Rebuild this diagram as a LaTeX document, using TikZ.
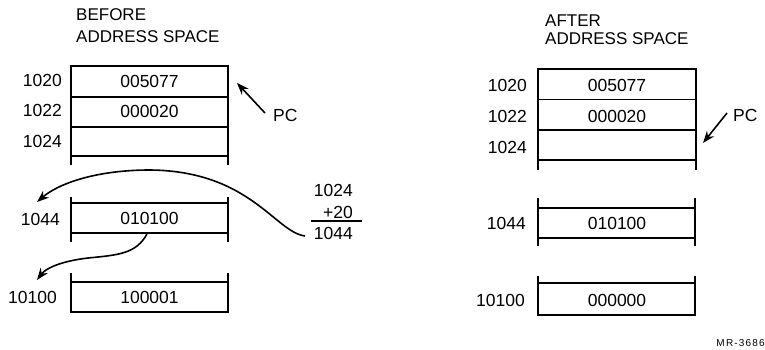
\documentclass[tikz,border=0pt]{standalone}
\usepackage{fontspec}
\setmainfont{Liberation Sans}
\usetikzlibrary{arrows.meta}
\tikzset{
  lbl/.style={font=\fontsize{17.5}{19}\selectfont, inner sep=0pt},
  val/.style={font=\fontsize{17.5}{19}\selectfont, inner sep=0pt},
  head/.style={font=\fontsize{17}{19}\selectfont, inner sep=0pt, anchor=west},
  frame/.style={line width=2.4pt, line cap=butt},
  sep/.style={line width=1.7pt},
  arr/.style={line width=1.6pt, -{Stealth[length=12pt,width=9pt]}},
}
\begin{document}
\begin{tikzpicture}[x=1pt,y=-1pt]
\useasboundingbox (0,0) rectangle (765,350);

% ---------- BEFORE ----------
\node[head] (hb1) at (76,14.5) {BEFORE};
\node[head] (hb2) at (76,36.5) {ADDRESS SPACE};

% main block
\draw[frame] (71,165) -- (71,66) -- (228,66) -- (228,165);
\draw[sep] (71,96.7) -- (228,96.7);
\draw[sep] (71,126.7) -- (228,126.7);
\draw[frame] (71,156) -- (228,156);
\node[lbl,anchor=east] (b1020) at (62,80) {1020};
\node[lbl,anchor=east] (b1022) at (62,110) {1022};
\node[lbl,anchor=east] (b1024) at (62,141) {1024};
\node[val] (bv1) at (149.5,81.5) {005077};
\node[val] (bv2) at (149.5,111.5) {000020};
\node[inner sep=0pt, minimum width=157pt, minimum height=29pt] (bv3) at (149.5,141.5) {};

% PC
\coordinate (bpctip) at (237,83);
\node[lbl,anchor=west] (bpc) at (273,115) {PC};
\draw[arr] (265,113) -- (bpctip);

% 1044 block
\draw[frame] (71,197) -- (71,242);
\draw[frame] (228,197) -- (228,242);
\draw[frame] (71,203) -- (228,203);
\draw[frame] (71,233) -- (228,233);
\node[lbl,anchor=east] (b1044) at (60,219) {1044};
\node[val] (bv4) at (149.5,218.5) {010100};
\coordinate (bsrc) at (147,234);

% 10100 block
\draw[frame] (71,273) -- (71,312) -- (228,312) -- (228,273);
\draw[frame] (71,282) -- (228,282);
\node[lbl,anchor=east] (b10100) at (57,297) {10100};
\node[val] (bv5) at (149.5,297) {100001};

% calculation
\node[lbl,anchor=east] (c1) at (353,190) {1024};
\node[lbl,anchor=east] (c2) at (353,212) {+20};
\coordinate (cl1) at (311,221);
\coordinate (cl2) at (362,221);
\draw[line width=1.3pt] (cl1) -- (cl2);
\node[lbl,anchor=east] (c3) at (353,233.5) {1044};

% curved arrows
\coordinate (t1) at (37,202);
\coordinate (t2) at (37,280);
\draw[arr] (305,236) .. controls (275,232) and (250,171) .. (150,170)
  .. controls (95,170) and (58,184) .. (t1);
\draw[arr] (bsrc) .. controls (136,254) and (118,255) .. (88,258)
  .. controls (62,261) and (46,268) .. (t2);

% ---------- AFTER ----------
\node[head] (ha1) at (545,21) {AFTER};
\node[head] (ha2) at (545,39) {ADDRESS SPACE};

\draw[frame] (538,170) -- (538,69) -- (696,69) -- (696,170);
\draw[sep] (538,99.5) -- (696,99.5);
\draw[sep] (538,130) -- (696,130);
\draw[frame] (538,160) -- (696,160);
\node[lbl,anchor=east] (a1020) at (527,85) {1020};
\node[lbl,anchor=east] (a1022) at (527,116) {1022};
\node[lbl,anchor=east] (a1024) at (527,147) {1024};
\node[val] (av1) at (617,85) {005077};
\node[val] (av2) at (617,116) {000020};
\node[inner sep=0pt, minimum width=158pt, minimum height=30pt] (av3) at (617,145) {};

\coordinate (apctip) at (703,143);
\node[lbl,anchor=west] (apc) at (733,115) {PC};
\draw[arr] (727,113) -- (apctip);

\draw[frame] (538,198) -- (538,246);
\draw[frame] (695,198) -- (695,246);
\draw[frame] (538,208) -- (695,208);
\draw[frame] (538,238) -- (695,238);
\node[lbl,anchor=east] (a1044) at (526,223) {1044};
\node[val] (av4) at (617,223) {010100};

\draw[frame] (538,276) -- (538,315) -- (695,315) -- (695,276);
\draw[frame] (538,283) -- (695,283);
\node[lbl,anchor=east] (a10100) at (525,300) {10100};
\node[val] (av5) at (617,300) {000000};

\node[inner sep=0pt, anchor=east, font=\fontsize{10}{12}\selectfont\addfontfeature{LetterSpace=12}] (mr) at (765,343) {MR-3686};
\end{tikzpicture}
\end{document}
